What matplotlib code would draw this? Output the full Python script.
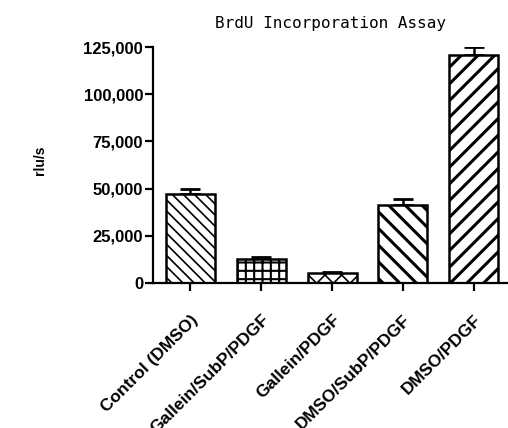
import matplotlib
matplotlib.use('Agg')
import matplotlib.pyplot as plt
from matplotlib.ticker import FuncFormatter

groups = ['Control (DMSO)', 'Gallein/SubP/PDGF', 'Gallein/PDGF',
          'DMSO/SubP/PDGF', 'DMSO/PDGF']
means = [47000, 12700, 5300, 41300, 120800]
sems = [3000, 1000, 300, 3200, 4000]
hatches = ['\\\\\\', '++', 'xx', '\\\\', '//']
hatch_lw = [1.2, 1.5, 1.2, 2.2, 2.2]

plt.rcParams['font.family'] = ['Liberation Sans', 'DejaVu Sans']

fig = plt.figure(figsize=(5.08, 4.28), dpi=100)
ax = fig.add_axes([0.301, 0.339, 0.697, 0.551])

x = list(range(len(groups)))
for i in x:
    with plt.rc_context({'hatch.linewidth': hatch_lw[i]}):
        ax.bar(i, means[i], width=0.69, color='white', edgecolor='black',
               linewidth=1.8, hatch=hatches[i], zorder=2)
    ax.errorbar(i, means[i], yerr=[[0], [sems[i]]], fmt='none', ecolor='black',
                elinewidth=1.8, capsize=7, capthick=2, zorder=1)

ax.set_xlim(-0.53, 4.47)
ax.set_ylim(0, 125000)
ax.set_yticks([0, 25000, 50000, 75000, 100000, 125000])
ax.yaxis.set_major_formatter(FuncFormatter(lambda v, p: f'{int(v):,}'))
ax.set_xticks(x)
ax.set_xticklabels(groups, rotation=45, ha='right', rotation_mode='anchor',
                   fontsize=12.5, fontweight='bold')
for lab in ax.get_yticklabels():
    lab.set_fontweight('bold')
    lab.set_fontsize(12)

for s in ['top', 'right']:
    ax.spines[s].set_visible(False)
for s in ['left', 'bottom']:
    ax.spines[s].set_linewidth(1.6)
ax.tick_params(axis='both', width=1.6, length=6, direction='out')
ax.tick_params(axis='y', pad=1)
ax.tick_params(axis='x', pad=15)

ax.set_ylabel('rlu/s', fontsize=10, fontweight='bold')
ax.yaxis.set_label_coords(-0.30, 0.52)
fig.text(0.65, 0.945, 'BrdU Incorporation Assay', ha='center', va='center',
         fontsize=11.5, family='DejaVu Sans Mono')

fig.savefig('out.png', dpi=100)
